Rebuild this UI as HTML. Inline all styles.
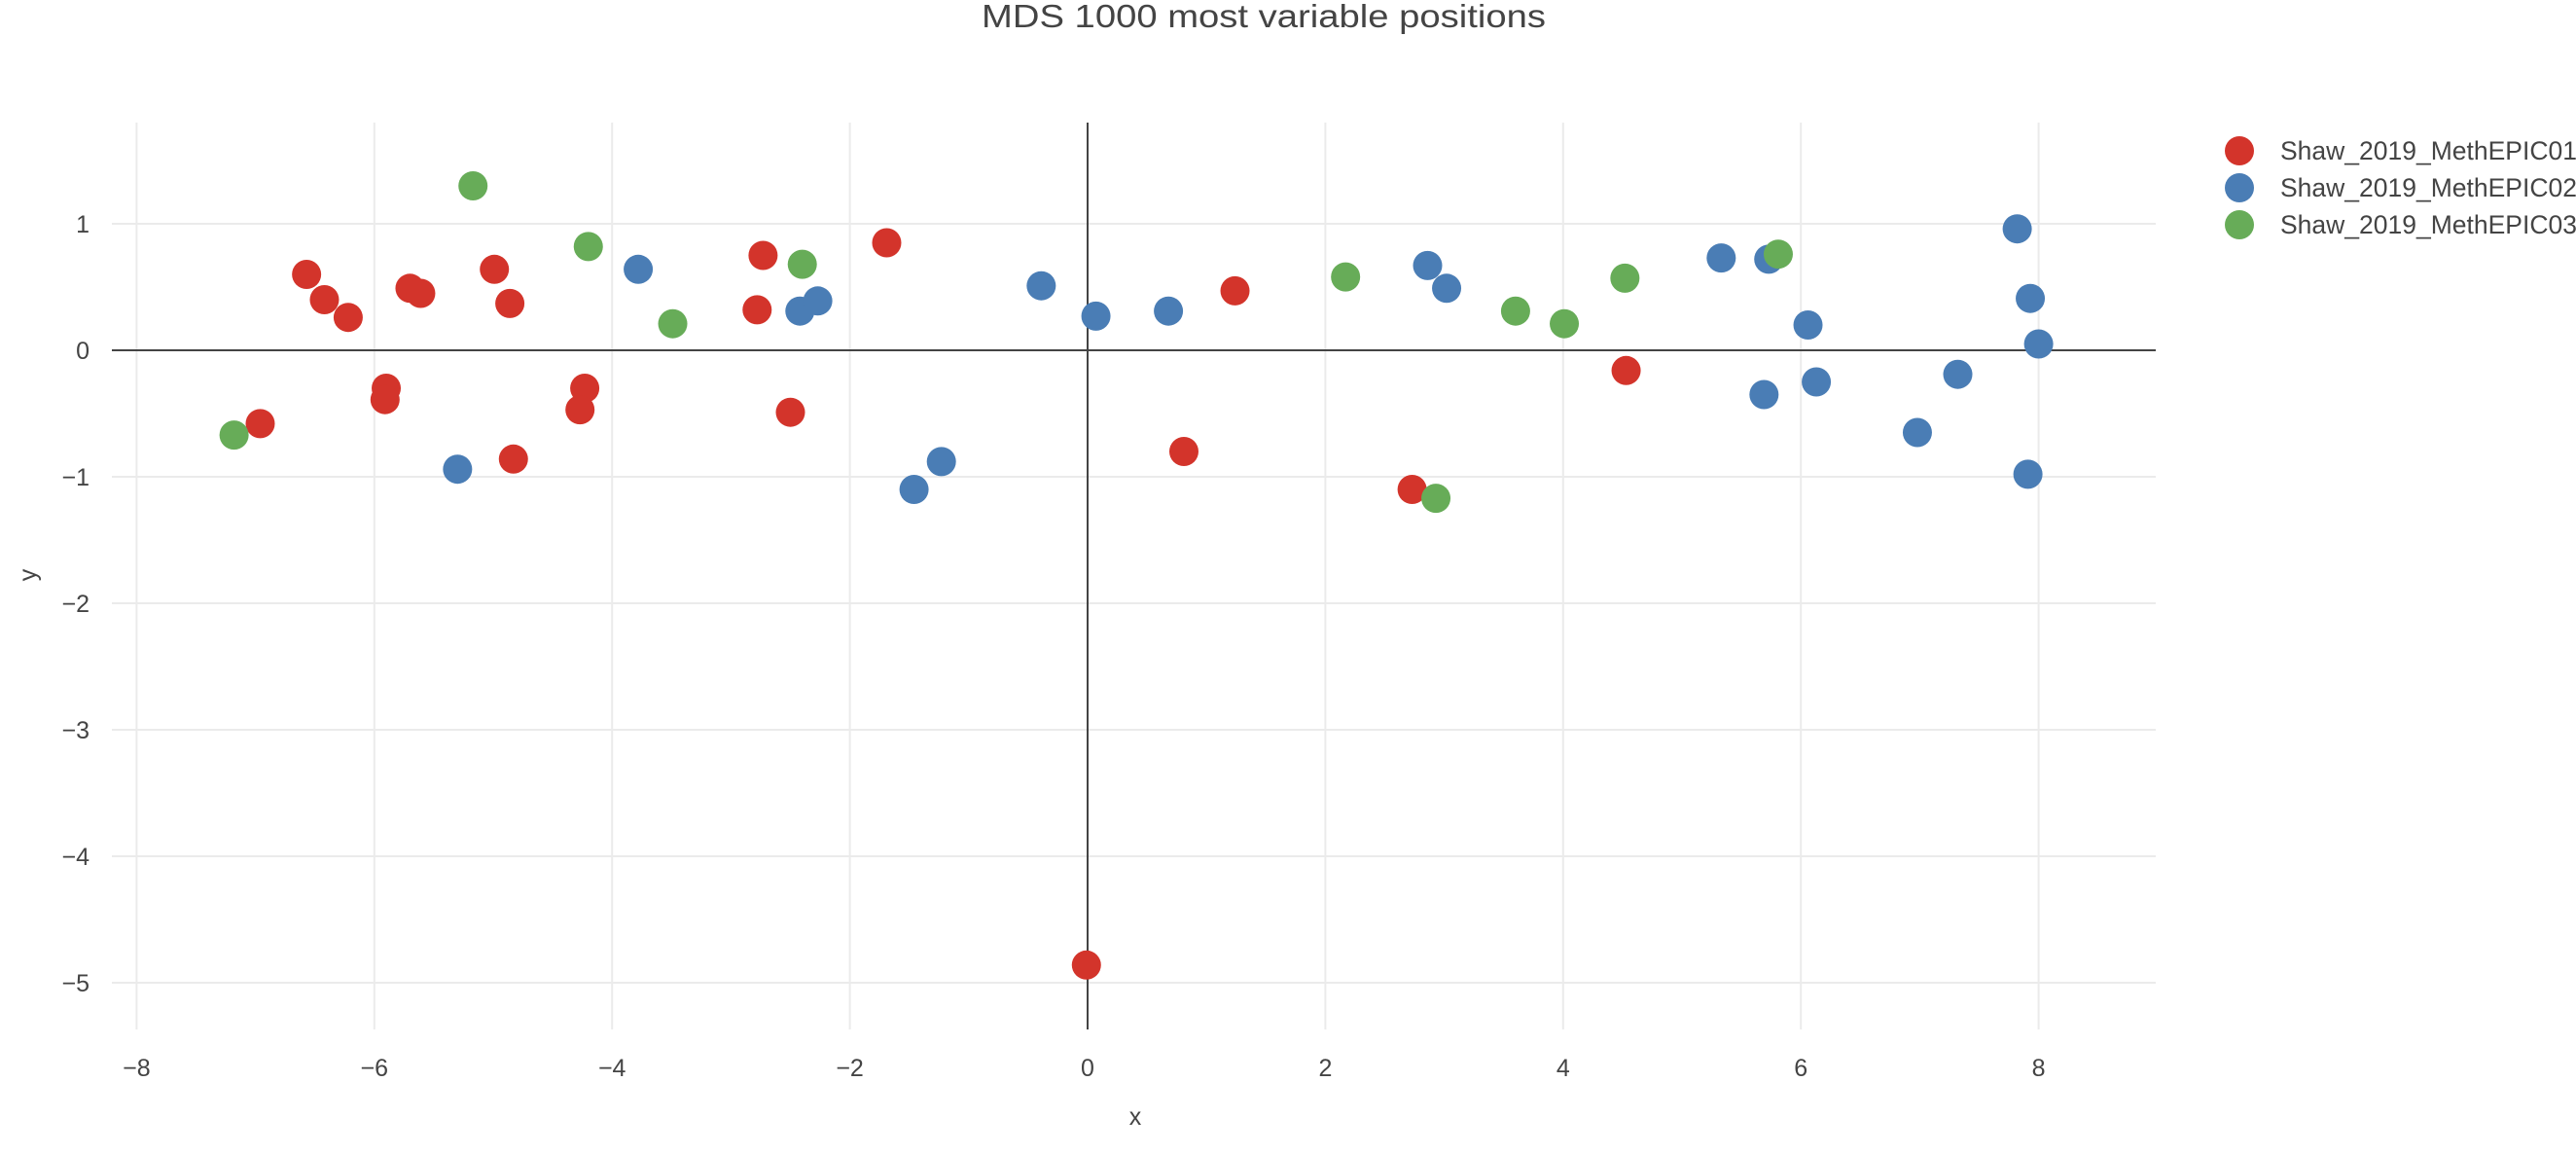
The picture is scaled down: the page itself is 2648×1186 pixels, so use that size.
<!DOCTYPE html>
<html><head><meta charset="utf-8"><style>
html,body{margin:0;padding:0;background:#fff;}
svg{display:block;font-family:"Liberation Sans",Arial,sans-serif;}
</style></head><body>
<svg id="chart" width="2648" height="1186" viewBox="0 0 2648 1186">
<text x="1299" y="28" font-size="33" fill="#444" text-anchor="middle" textLength="580" lengthAdjust="spacingAndGlyphs">MDS 1000 most variable positions</text>
<g id="grid"></g>
<g id="axes"></g>
<g id="points"></g>
<g id="legend"></g>
<text x="1167" y="1156" font-size="25" fill="#444" text-anchor="middle">x</text>
<text x="0" y="0" font-size="25" fill="#444" text-anchor="middle" transform="translate(37,591) rotate(-90)">y</text>
</svg>
<script>
const seriesNames = ["Shaw_2019_MethEPIC01","Shaw_2019_MethEPIC02","Shaw_2019_MethEPIC03"];
const seriesColors = ["#d3342b","#4a7db5","#67ac58"];
const xTicks = [-8,-6,-4,-2,0,2,4,6,8];
const yTicks = [-5,-4,-3,-2,-1,0,1];
const redX = [-6.57,-6.42,-6.22,-5.70,-5.61,-4.99,-4.86,-5.90,-5.91,-6.96,-4.83,-4.23,-4.27,-2.73,-2.78,-2.50,-1.69,1.24,0.81,2.73,4.53,-0.01];
const redY = [0.60,0.40,0.26,0.49,0.45,0.64,0.37,-0.30,-0.39,-0.58,-0.86,-0.30,-0.47,0.75,0.32,-0.49,0.85,0.47,-0.80,-1.10,-0.16,-4.86];
const blueX = [-5.30,-3.78,-2.42,-2.27,-1.46,-1.23,-0.39,0.07,0.68,2.86,3.02,5.33,5.73,5.69,6.06,6.13,6.98,7.32,7.82,7.93,8.00,7.91];
const blueY = [-0.94,0.64,0.31,0.39,-1.10,-0.88,0.51,0.27,0.31,0.67,0.49,0.73,0.72,-0.35,0.20,-0.25,-0.65,-0.19,0.96,0.41,0.05,-0.98];
const greenX = [-5.17,-4.20,-3.49,-2.40,-7.18,2.17,2.93,3.60,4.01,4.52,5.81];
const greenY = [1.30,0.82,0.21,0.68,-0.67,0.58,-1.17,0.31,0.21,0.57,0.76];

const NS="http://www.w3.org/2000/svg";
const L=115,R=2216,T=126,B=1058;
const X0=1118,XU=122.2,Y0=360,YU=130;
function sx(v){return X0+v*XU;}
function sy(v){return Y0-v*YU;}
function mk(tag,attrs,parent){const e=document.createElementNS(NS,tag);for(const k in attrs)e.setAttribute(k,attrs[k]);parent.appendChild(e);return e;}
const grid=document.getElementById('grid'),axes=document.getElementById('axes'),pts=document.getElementById('points'),leg=document.getElementById('legend');
xTicks.forEach(t=>{
  if(t!==0){const g=mk('line',{x1:sx(t),x2:sx(t),y1:T,y2:B,stroke:'#ebebeb','stroke-width':2},grid);
  
  }
  const lb=mk('text',{x:sx(t),y:1106,'font-size':25,fill:'#444','text-anchor':'middle'},axes);
  lb.textContent=(t<0?'\u2212'+(-t):String(t));
  
  
});
yTicks.forEach(t=>{
  if(t!==0){const g=mk('line',{x1:L,x2:R,y1:sy(t),y2:sy(t),stroke:'#ebebeb','stroke-width':2},grid);
  
  }
  const lb=mk('text',{x:92,y:sy(t)+9,'font-size':25,fill:'#444','text-anchor':'end'},axes);
  lb.textContent=(t<0?'\u2212'+(-t):String(t));
  
  
});
const zx=mk('line',{x1:sx(0),x2:sx(0),y1:T,y2:B,stroke:'#444','stroke-width':2},axes);


const zy=mk('line',{x1:L,x2:R,y1:sy(0),y2:sy(0),stroke:'#444','stroke-width':2},axes);


const sets=[[redX,redY],[blueX,blueY],[greenX,greenY]];
sets.forEach((s,i)=>{
  s[0].forEach((xv,j)=>{
    const c=mk('circle',{cx:sx(xv),cy:sy(s[1][j]),r:15,fill:seriesColors[i]},pts);
    
    
  });
});
seriesNames.forEach((n,i)=>{
  const y=155+i*38;
  const g=mk('g',{},leg);
  
  
  mk('circle',{cx:2302,cy:y,r:15,fill:seriesColors[i]},g);
  const t=mk('text',{x:2344,y:y+9,'font-size':26.5,fill:'#444'},g);
  t.textContent=n;
});
</script>
</body></html>
